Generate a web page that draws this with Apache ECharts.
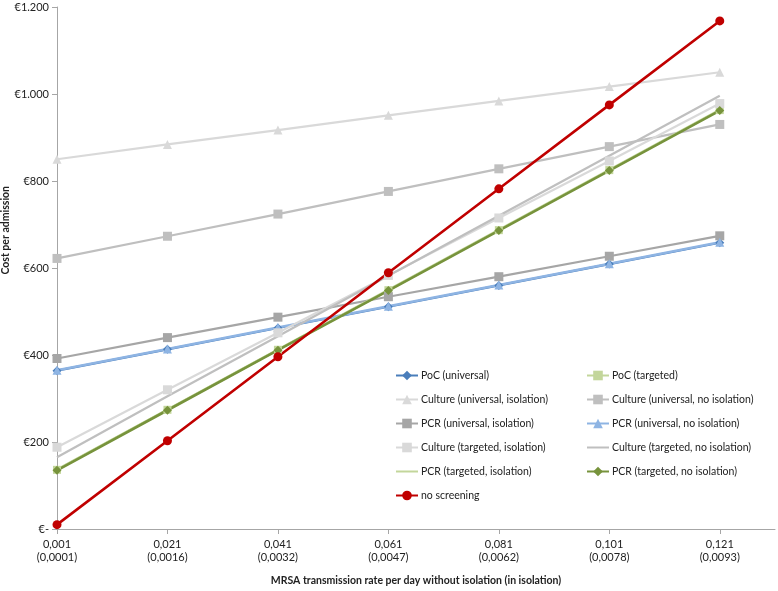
<!DOCTYPE html>
<html><head><meta charset="utf-8">
<script src="https://cdn.jsdelivr.net/npm/echarts@6/dist/echarts.min.js"></script>
<style>html,body{margin:0;padding:0;background:#fff}#c{width:778px;height:591px}</style>
</head><body><div id="c"></div>
<script>
const categories = ['0,001\n(0,0001)','0,021\n(0,0016)','0,041\n(0,0032)','0,061\n(0,0047)','0,081\n(0,0062)','0,101\n(0,0078)','0,121\n(0,0093)'];
const xPos = [0,1,2,3,4,5,6];
const pocUniversal = [364, 413, 462, 511, 560, 609, 658];
const pocTargeted = [136, 274, 412, 549, 687, 825, 963];
const cultureUnivIso = [850, 884, 917, 951, 984, 1017, 1050];
const cultureUnivNoIso = [622, 673, 724, 776, 828, 879, 930];
const pcrUnivIso = [392, 440, 487, 534, 580, 627, 674];
const pcrUnivNoIso = [365, 414, 463, 512, 561, 610, 659];
const cultureTargIso = [188, 320, 451, 583, 715, 846, 978];
const cultureTargNoIso = [165, 305, 443, 582, 720, 858, 996];
const pcrTargIso = [137, 275, 413, 550, 688, 826, 964];
const pcrTargNoIso = [135, 273, 411, 548, 686, 824, 962];
const noScreening = [10, 203, 396, 589, 782, 975, 1168];
const yTicks = [0, 200, 400, 600, 800, 1000, 1200];

const FONT = 'Lato';
function pts(arr){ return arr.map((v,i)=>[xPos[i], v]); }
const defs = [
  ['PoC (universal)', pocUniversal, '#4A7EBB', 'diamond', 9, 2.2],
  ['PoC (targeted)', pocTargeted, '#C3D69B', 'rect', 8, 2.2],
  ['Culture (universal, isolation)', cultureUnivIso, '#D9D9D9', 'triangle', 9, 2.2],
  ['Culture (universal, no isolation)', cultureUnivNoIso, '#BFBFBF', 'rect', 9, 2.2],
  ['PCR (universal, isolation)', pcrUnivIso, '#A6A6A6', 'rect', 9, 2.2],
  ['PCR (universal, no isolation)', pcrUnivNoIso, '#8EB4E3', 'triangle', 9, 2.5],
  ['Culture (targeted, isolation)', cultureTargIso, '#D9D9D9', 'rect', 9, 2.2],
  ['Culture (targeted, no isolation)', cultureTargNoIso, '#BFBFBF', 'none', 0, 2.2],
  ['PCR (targeted, isolation)', pcrTargIso, '#C3D69B', 'none', 0, 2.2],
  ['PCR (targeted, no isolation)', pcrTargNoIso, '#77933C', 'diamond', 9, 2.6],
  ['no screening', noScreening, '#C00000', 'circle', 9, 2.6]
];
const series = defs.map(d => ({
  name: d[0], type: 'line', data: pts(d[1]),
  symbol: d[3], symbolSize: d[4], showSymbol: d[3] !== 'none',
  lineStyle: {color: d[2], width: d[5]},
  itemStyle: {color: d[2]},
  animation: false
}));
const lineIcon = 'path://M0,5L22,5L22,7L0,7Z';
function legendItem(d){ return d[3] === 'none' ? {name: d[0], icon: lineIcon} : {name: d[0]}; }
const leftNames = defs.filter((d,i)=>i%2===0).map(legendItem);
const rightNames = defs.filter((d,i)=>i%2===1).map(legendItem);
const legendCommon = {orient:'vertical', itemWidth:22, itemHeight:12, itemGap:13,
  textStyle:{fontFamily:FONT, fontSize:10.5, color:'#222', padding:[0,0,0,-2]}};
const chart = echarts.init(document.getElementById('c'));
chart.setOption({
  animation: false,
  grid: {left: 57, right: 3, top: 7, bottom: 60, containLabel: false},
  graphic: [{
    type: 'text', left: 0, top: 186, rotation: Math.PI/2,
    style: {text: 'Cost per admission', fontFamily: FONT, fontSize: 10.5, fontWeight: 'bold', fill: '#222'}
  }],
  legend: [
    Object.assign({data: leftNames, left: 390, top: 365}, legendCommon),
    Object.assign({data: rightNames, left: 581, top: 365}, legendCommon)
  ],
  xAxis: {
    type: 'value', min: 0, max: 6.5, interval: 1,
    name: 'MRSA transmission rate per day without isolation (in isolation)', nameLocation: 'middle', nameGap: 46,
    nameTextStyle: {fontFamily: FONT, fontSize: 10.5, fontWeight: 'bold', color: '#222'},
    axisLine: {lineStyle: {color: '#A6A6A6', width: 1}},
    axisTick: {show: true, length: 5, lineStyle: {color: '#A6A6A6'}, customValues: xPos},
    axisLabel: {customValues: xPos, formatter: v => categories[Math.round(v)] || '', fontFamily: FONT, fontSize: 11, color: '#222', lineHeight: 13, margin: 9},
    splitLine: {show: false}
  },
  yAxis: {
    type: 'value', min: 0, max: 1200, interval: 200,
    axisLine: {show: true, lineStyle: {color: '#A6A6A6', width: 1}},
    axisTick: {show: true, length: 5, lineStyle: {color: '#A6A6A6'}, customValues: yTicks},
    axisLabel: {customValues: yTicks, formatter: v => v === 0 ? '€-' : '€' + (v >= 1000 ? Math.floor(v/1000) + '.' + String(v%1000).padStart(3,'0') : v), fontFamily: FONT, fontSize: 11, color: '#222', margin: 8},
    splitLine: {show: false}
  },
  series: series
});
</script></body></html>
